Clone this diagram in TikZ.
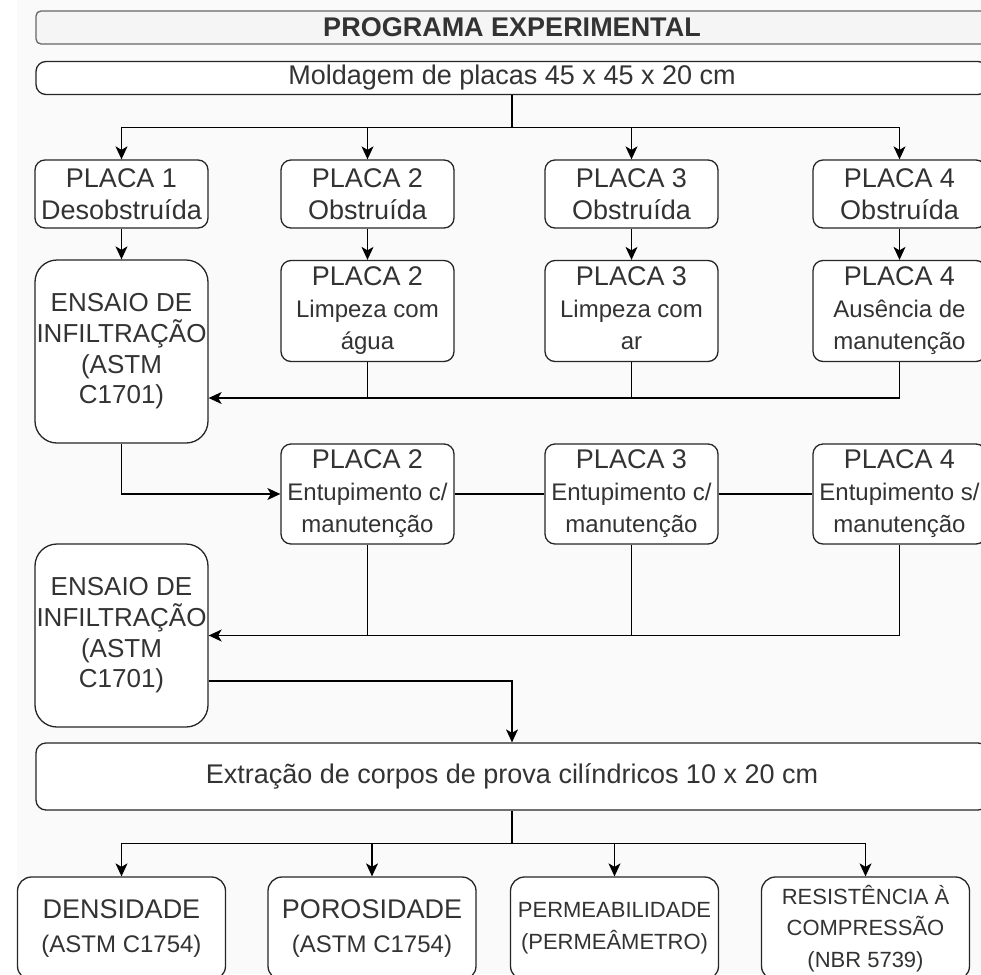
\documentclass[tikz,border=0pt]{standalone}
\usepackage{fontspec}
\setmainfont{Liberation Sans}
\usetikzlibrary{arrows.meta,calc}

\definecolor{bgcol}{HTML}{FAFAFA}
\definecolor{txtcol}{HTML}{333333}
\definecolor{titlefill}{HTML}{F5F5F5}
\definecolor{titleline}{HTML}{666666}

\newcommand{\fntbig}{\fontsize{27}{32.5}\selectfont}
\newcommand{\fntsmall}{\fontsize{24}{32}\selectfont}

\tikzset{
  box/.style={draw=black!85, line width=1.3pt, fill=white, rounded corners=10pt,
    align=center, inner sep=0pt, text=txtcol, minimum width=173pt},
  titlebox/.style={box, draw=titleline, fill=titlefill, rounded corners=5pt,
    minimum width=952pt, minimum height=33pt, font=\bfseries\fntbig},
  widebox/.style={box, minimum width=952pt, font=\fntbig},
  placa/.style={box, minimum height=68pt, font=\fntbig},
  placasub/.style={box, minimum height=101pt, font=\fntsmall},
  ensaio/.style={box, rounded corners=22pt, minimum height=183pt,
    font=\fontsize{26}{30.7}\selectfont},
  ensbox/.style={box, rounded corners=14pt, minimum width=208pt, minimum height=103pt},
  conn/.style={line width=1.3pt, black},
  arr/.style={conn, -{Stealth[length=13pt,width=12pt,inset=3.5pt]}}
}

\begin{document}
\begin{tikzpicture}[x=1pt,y=-1pt]
\useasboundingbox (0,0) rectangle (981,974);
\clip (0,0) rectangle (981,974);
\fill[white] (0,0) rectangle (981,974);
\fill[bgcol] (17,0) rectangle (981,974);

\node[titlebox] (titulo) at (512,27.5) {PROGRAMA EXPERIMENTAL};
\node[widebox, minimum height=33pt] (mold) at (512,78) {Moldagem de placas 45 x 45 x 20 cm};

\node[placa] (p1) at (121.5,194) {PLACA 1\\Desobstruída};
\node[placa] (p2) at (367.5,194) {PLACA 2\\Obstruída};
\node[placa] (p3) at (631.5,194) {PLACA 3\\Obstruída};
\node[placa] (p4) at (899.5,194) {PLACA 4\\Obstruída};

\node[ensaio] (ens1) at (121.5,351.5) {ENSAIO DE\\INFILTRAÇÃO\\(ASTM\\C1701)};
\node[placasub] (l2) at (367.5,311) {{\fntbig PLACA 2}\\Limpeza com\\água};
\node[placasub] (l3) at (631.5,311) {{\fntbig PLACA 3}\\Limpeza com\\\vphantom{g}ar};
\node[placasub] (l4) at (899.5,311) {{\fntbig PLACA 4}\\Ausência de\\manutenção};

\node[placasub, minimum height=100pt] (e2) at (367.5,494) {{\fntbig PLACA 2}\\Entupimento c/\\manutenção};
\node[placasub, minimum height=100pt] (e3) at (631.5,494) {{\fntbig PLACA 3}\\Entupimento c/\\manutenção};
\node[placasub, minimum height=100pt] (e4) at (899.5,494) {{\fntbig PLACA 4}\\Entupimento s/\\manutenção};

\node[ensaio] (ens2) at (121.5,635.5) {ENSAIO DE\\INFILTRAÇÃO\\(ASTM\\C1701)};

\node[widebox, minimum height=67pt] (extr) at (512,776.5) {Extração de corpos de prova cilíndricos 10 x 20 cm};

\node[ensbox, font=\fontsize{24}{34.5}\selectfont] (d1) at (121.5,928.5) {{\fntbig DENSIDADE}\\(ASTM C1754)};
\node[ensbox, font=\fontsize{24}{34.5}\selectfont] (d2) at (372,928.5) {{\fntbig POROSIDADE}\\(ASTM C1754)};
\node[ensbox, font=\fontsize{22}{31.7}\selectfont] (d3) at (614.5,928.5) {PERMEABILIDADE\\(PERMEÂMETRO)};
\node[ensbox, font=\fontsize{22}{31.7}\selectfont] (d4) at (865.5,928.5) {RESISTÊNCIA À\\COMPRESSÃO\\(NBR 5739)};

\coordinate (split1) at ([yshift=-32pt]mold.south);
\draw[conn] (mold.south) -- (split1);
\foreach \n in {p1,p2,p3,p4} \draw[arr] (split1) -| (\n.north);

\draw[arr] (p1) -- (ens1);
\draw[arr] (p2) -- (l2);
\draw[arr] (p3) -- (l3);
\draw[arr] (p4) -- (l4);

\coordinate (in1) at ([yshift=-46.5pt]ens1.east);
\draw[arr] (l4.south) |- (in1);
\draw[conn] (l2.south) -- (l2.south |- in1);
\draw[conn] (l3.south) -- (l3.south |- in1);

\draw[arr] (ens1.south) |- (e2.west);
\draw[conn] (e2) -- (e3);
\draw[conn] (e3) -- (e4);

\draw[arr] (e4.south) |- (ens2.east);
\draw[conn] (e2.south) -- (e2.south |- ens2.east);
\draw[conn] (e3.south) -- (e3.south |- ens2.east);

\coordinate (out2) at ([yshift=-45.5pt]ens2.east);
\draw[arr] (out2) -| (extr.north);

\coordinate (split2) at ([yshift=-33pt]extr.south);
\draw[conn] (extr.south) -- (split2);
\foreach \n in {d1,d2,d3,d4} \draw[arr] (split2) -| (\n.north);
\end{tikzpicture}
\end{document}
